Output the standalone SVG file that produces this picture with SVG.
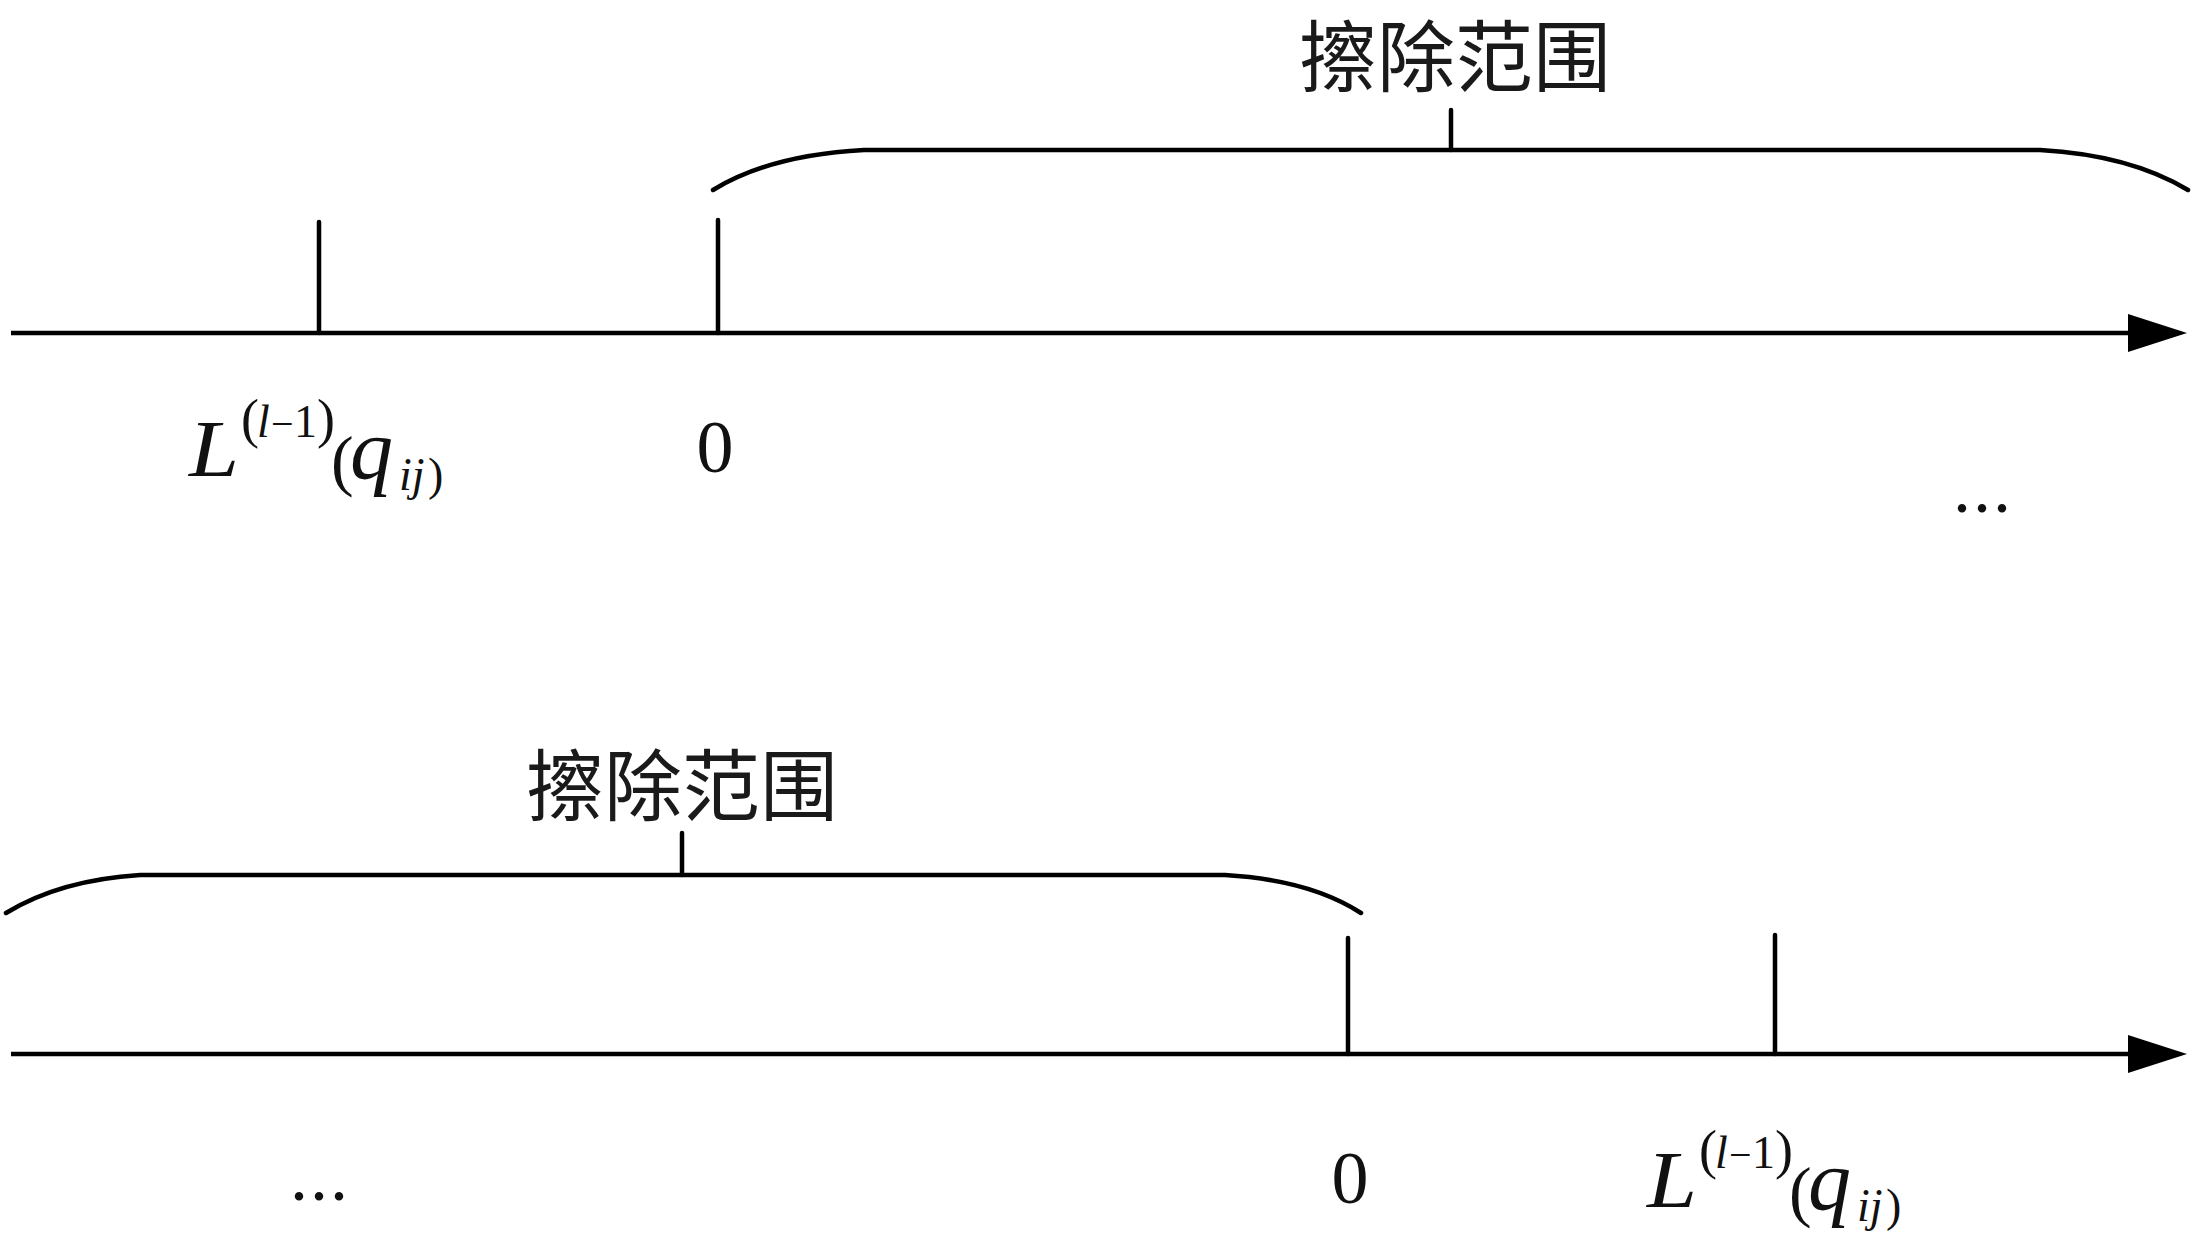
<svg xmlns="http://www.w3.org/2000/svg" width="2195" height="1260" viewBox="0 0 2195 1260">
<style>
.ln{stroke:#000;stroke-width:4.5;fill:none;stroke-linecap:round}
.ax{stroke:#000;stroke-width:4.5;fill:none}
.cjk{font-family:"Noto Sans CJK SC","Noto Sans CJK JP",sans-serif;font-size:78px;fill:#1a1a1a;text-anchor:middle}
.m{font-family:"Liberation Serif","Times New Roman",serif;fill:#111}
.i{font-style:italic}
</style>
<defs>
<marker id="arr" viewBox="0 0 59 38" refX="2" refY="19" markerWidth="59" markerHeight="38" markerUnits="userSpaceOnUse" orient="auto">
<path d="M0,0 L59,19 L0,38 Z" fill="#000"/>
</marker>
<g id="lab">
<text class="m i" x="189" y="476" font-size="80" textLength="50" lengthAdjust="spacingAndGlyphs">L</text>
<text class="m" x="241" y="437" font-size="54">(</text>
<text class="m i" x="257" y="437" font-size="46">l</text>
<text class="m" x="271" y="437" font-size="40">−</text>
<text class="m" x="294" y="437" font-size="46">1</text>
<text class="m" x="317" y="437" font-size="54">)</text>
<text class="m" x="331" y="483" font-size="68">(</text>
<text class="m i" x="350" y="478" font-size="86">q</text>
<text class="m i" x="399" y="490" font-size="46">ij</text>
<text class="m" x="428" y="490" font-size="46">)</text>
</g>
</defs>
<g id="connectors">
<line class="ax" x1="11" y1="333" x2="2130" y2="333" marker-end="url(#arr)"/>
<line class="ax" x1="11" y1="1054" x2="2130" y2="1054" marker-end="url(#arr)"/>
</g>
<g id="top-ticks">
<line class="ln" x1="319" y1="222" x2="319" y2="333"/>
<line class="ln" x1="718" y1="220" x2="718" y2="333"/>
</g>
<g id="top-brace">
<path class="ln" d="M713,190 Q770,155 864,150 L2040,150 Q2130,155 2188,190"/>
<line class="ln" x1="1451" y1="110" x2="1451" y2="150"/>
<text class="cjk" x="1455" y="86">擦除范围</text>
</g>
<g id="top-labels">
<use href="#lab"/>
<text class="m" x="715" y="472" font-size="74" text-anchor="middle">0</text>
<text class="m" x="1953" y="512" font-size="72" letter-spacing="2">...</text>
</g>
<g id="bottom-ticks">
<line class="ln" x1="1348" y1="938" x2="1348" y2="1054"/>
<line class="ln" x1="1775" y1="935" x2="1775" y2="1054"/>
</g>
<g id="bottom-brace">
<path class="ln" d="M6,913 Q60,880 140,875 L1225,875 Q1310,880 1361,913"/>
<line class="ln" x1="682" y1="833" x2="682" y2="875"/>
<text class="cjk" x="682" y="815">擦除范围</text>
</g>
<g id="bottom-labels">
<text class="m" x="290" y="1200" font-size="72" letter-spacing="2">...</text>
<text class="m" x="1350" y="1203" font-size="74" text-anchor="middle">0</text>
<use href="#lab" transform="translate(1458,731)"/>
</g>
</svg>
